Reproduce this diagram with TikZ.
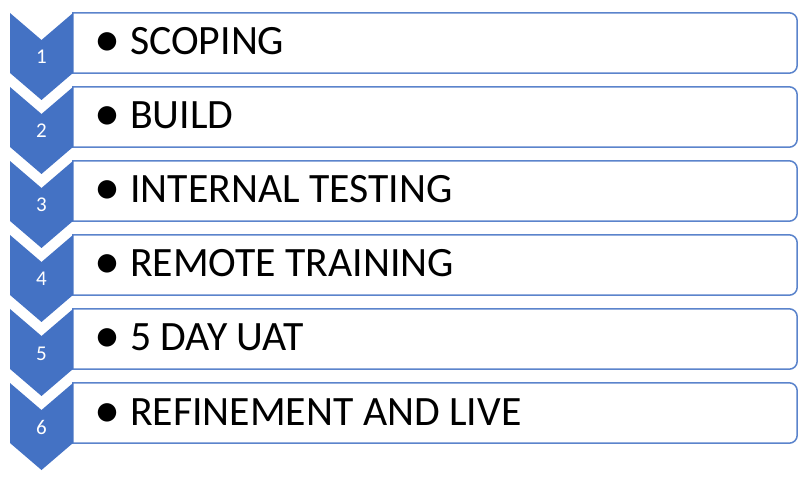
\documentclass[tikz,border=0pt]{standalone}
\usepackage{fontspec}
\setmainfont{Carlito}
\usepackage{xcolor}
\usepackage{graphicx}
\definecolor{chevblue}{HTML}{4472C4}
\definecolor{lineblue}{HTML}{5B84CC}

\begin{document}
\begin{tikzpicture}[x=1pt,y=1pt]
\def\r{8}
\def\bw{724pt}
\def\bh{60pt}
\def\bul{\makebox[32pt][l]{\makebox[19pt]{\raisebox{-2pt}{\scalebox{1.25}{•}}}}}
\tikzset{
  chev/.style={fill=chevblue},
  boxline/.style={draw=lineblue,line width=1.5pt,fill=white},
  numtxt/.style={text=white,anchor=base,inner sep=0pt,font=\fontsize{21}{25}\selectfont},
  itemtxt/.style={text=black,anchor=base west,inner sep=0pt,font=\fontsize{41.75}{49}\selectfont}
}
\useasboundingbox (0,0) rectangle (812,488);

%boxes
\node [minimum width=\bw, minimum height=\bh, inner sep=0pt, name=b1] at (435,445) {};
\node [minimum width=\bw, minimum height=\bh, inner sep=0pt, name=b2] at (435,371) {};
\node [minimum width=\bw, minimum height=\bh, inner sep=0pt, name=b3] at (435,297) {};
\node [minimum width=\bw, minimum height=\bh, inner sep=0pt, name=b4] at (435,223) {};
\node [minimum width=\bw, minimum height=\bh, inner sep=0pt, name=b5] at (435,149) {};
\node [minimum width=\bw, minimum height=\bh, inner sep=0pt, name=b6] at (435,75) {};
\draw [boxline] (b1.north west) -- ([xshift=-\r]b1.north east) arc[start angle=90,end angle=0,radius=\r] -- ([yshift=\r]b1.south east) arc[start angle=0,end angle=-90,radius=\r] -- (b1.south west) -- cycle;
\draw [boxline] (b2.north west) -- ([xshift=-\r]b2.north east) arc[start angle=90,end angle=0,radius=\r] -- ([yshift=\r]b2.south east) arc[start angle=0,end angle=-90,radius=\r] -- (b2.south west) -- cycle;
\draw [boxline] (b3.north west) -- ([xshift=-\r]b3.north east) arc[start angle=90,end angle=0,radius=\r] -- ([yshift=\r]b3.south east) arc[start angle=0,end angle=-90,radius=\r] -- (b3.south west) -- cycle;
\draw [boxline] (b4.north west) -- ([xshift=-\r]b4.north east) arc[start angle=90,end angle=0,radius=\r] -- ([yshift=\r]b4.south east) arc[start angle=0,end angle=-90,radius=\r] -- (b4.south west) -- cycle;
\draw [boxline] (b5.north west) -- ([xshift=-\r]b5.north east) arc[start angle=90,end angle=0,radius=\r] -- ([yshift=\r]b5.south east) arc[start angle=0,end angle=-90,radius=\r] -- (b5.south west) -- cycle;
\draw [boxline] (b6.north west) -- ([xshift=-\r]b6.north east) arc[start angle=90,end angle=0,radius=\r] -- ([yshift=\r]b6.south east) arc[start angle=0,end angle=-90,radius=\r] -- (b6.south west) -- cycle;

%chevrons
\fill [chev] (10,475) -- (41.5,448) -- (73,475) -- (73,415) -- (41.5,388) -- (10,415) -- cycle;
\fill [chev] (10,401) -- (41.5,374) -- (73,401) -- (73,341) -- (41.5,314) -- (10,341) -- cycle;
\fill [chev] (10,327) -- (41.5,300) -- (73,327) -- (73,267) -- (41.5,240) -- (10,267) -- cycle;
\fill [chev] (10,253) -- (41.5,226) -- (73,253) -- (73,193) -- (41.5,166) -- (10,193) -- cycle;
\fill [chev] (10,179) -- (41.5,152) -- (73,179) -- (73,119) -- (41.5,92) -- (10,119) -- cycle;
\fill [chev] (10,105) -- (41.5,78) -- (73,105) -- (73,45) -- (41.5,18) -- (10,45) -- cycle;

\node [numtxt, name=n1] at (41.5,424) {1};
\node [numtxt, name=n2] at (41.5,350) {2};
\node [numtxt, name=n3] at (41.5,276) {3};
\node [numtxt, name=n4] at (41.5,202) {4};
\node [numtxt, name=n5] at (41.5,128) {5};
\node [numtxt, name=n6] at (41.5,54) {6};

\node [itemtxt, name=t1] at (98,433) {\bul SCOPING};
\node [itemtxt, name=t2] at (98,359) {\bul BUILD};
\node [itemtxt, name=t3] at (98,285) {\bul INTERNAL TESTING};
\node [itemtxt, name=t4] at (98,211) {\bul REMOTE TRAINING};
\node [itemtxt, name=t5] at (98,137) {\bul 5 DAY UAT};
\node [itemtxt, name=t6] at (98,63) {\bul REFINEMENT AND LIVE};
\end{tikzpicture}
\end{document}
